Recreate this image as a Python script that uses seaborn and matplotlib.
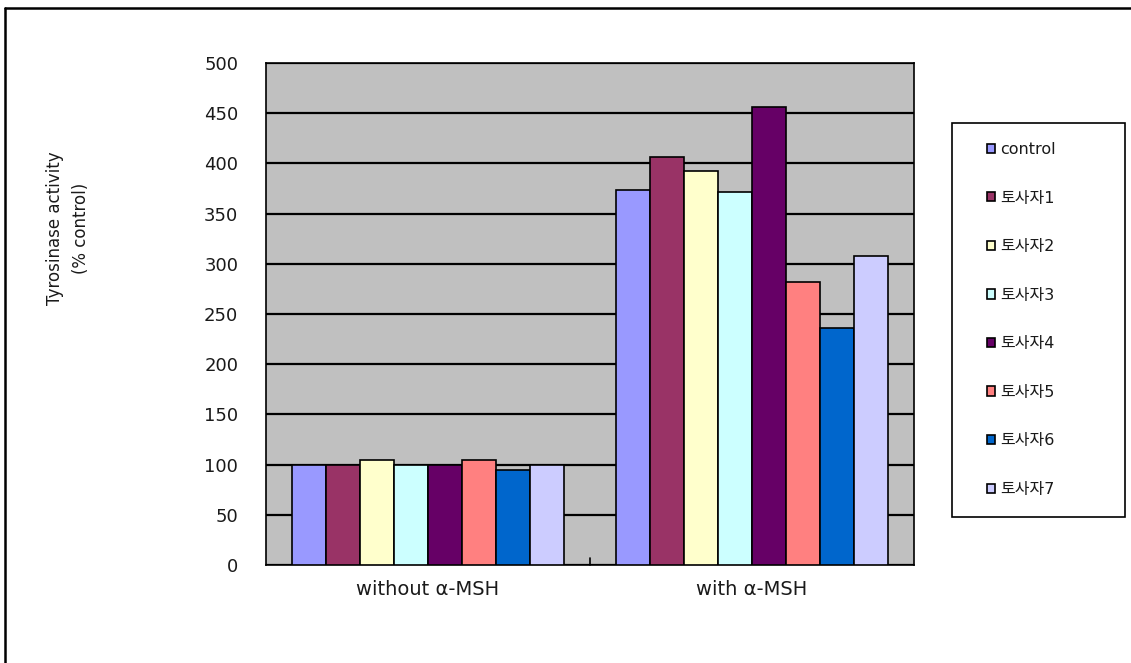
import matplotlib
matplotlib.use("Agg")
import matplotlib.pyplot as plt
from matplotlib.lines import Line2D
from matplotlib.patches import Rectangle
import pandas as pd
import seaborn as sns

# Tyrosinase activity by treatment group
groups = ["without α-MSH", "with α-MSH"]
samples = ["control", "토사자1", "토사자2", "토사자3", "토사자4", "토사자5", "토사자6", "토사자7"]
without_msh = [100, 100, 105, 100, 100, 105, 95, 100]
with_msh = [374, 406, 392, 372, 456, 282, 236, 308]
colors = ["#9999FF", "#993366", "#FFFFCC", "#CCFFFF", "#660066", "#FF8080", "#0066CC", "#CCCCFF"]
yticks = [0, 50, 100, 150, 200, 250, 300, 350, 400, 450, 500]

rows = []
for g, vals in zip(groups, [without_msh, with_msh]):
    for s, v in zip(samples, vals):
        rows.append({"group": g, "sample": s, "activity": v})
df = pd.DataFrame(rows)

sns.set_theme(style="white")
FAM = ["DejaVu Sans", "Noto Sans CJK KR"]
plt.rcParams["font.family"] = FAM
TXT = "#1a1a1a"

W, H = 1131, 663
fig = plt.figure(figsize=(W / 100, H / 100), dpi=100)
fig.patch.set_facecolor("white")
ax = fig.add_axes([266 / W, 1 - 565 / H, 648 / W, 502 / H])
ax.set_facecolor("#C0C0C0")

sns.barplot(data=df, x="group", y="activity", hue="sample", order=groups,
            hue_order=samples, palette=colors, width=0.84, edgecolor="black",
            linewidth=1.2, saturation=1, legend=True, ax=ax, zorder=3)

ax.set_ylim(0, 500)
ax.set_xlim(-0.5, 1.5)
ax.set_yticks(yticks)
ax.yaxis.grid(True, color="black", linewidth=1.6, zorder=0)
ax.set_axisbelow(True)
ax.tick_params(axis="y", length=0, pad=20, labelsize=13, labelcolor=TXT)
ax.tick_params(axis="x", length=0, pad=11, labelsize=14, labelcolor=TXT)
ax.set_xticks([0, 1])
ax.set_xticklabels(groups)
ax.set_xlabel("")
ax.set_ylabel("")
for sp in ax.spines.values():
    sp.set_visible(True)
    sp.set_color("black")
    sp.set_linewidth(1.2)
# category boundary tick
ax.plot([0.5, 0.5], [0, 7], color="black", lw=1.2, zorder=4, clip_on=False)

fig.text(68 / W, 1 - 228 / H, "Tyrosinase activity\n(% control)", rotation=90,
         ha="center", va="center", fontsize=12, color=TXT, linespacing=1.55,
         multialignment="center")

# legend on the right, framed box drawn separately
handles, labels = ax.get_legend_handles_labels()
ax.get_legend().remove()
fig.add_artist(Rectangle((952 / W, 1 - 517 / H), 173 / W, 394 / H, transform=fig.transFigure,
                         facecolor="white", edgecolor="black", lw=1.2))
leg = fig.legend(handles, labels, loc="upper left",
                 bbox_to_anchor=(987 / W, 1 - 142 / H), frameon=False,
                 handlelength=0.5, handleheight=0.5, handletextpad=0.3,
                 labelspacing=2.1, borderpad=0, borderaxespad=0,
                 prop={"family": FAM, "size": 11.5})
for t in leg.get_texts():
    t.set_color(TXT)

# outer frame lines (top and left)
fig.add_artist(Line2D([5 / W, 1], [1 - 8 / H, 1 - 8 / H], color="black", lw=1.8, transform=fig.transFigure))
fig.add_artist(Line2D([5 / W, 5 / W], [0, 1 - 8 / H], color="black", lw=1.8, transform=fig.transFigure))

fig.savefig("out.png", dpi=100)
